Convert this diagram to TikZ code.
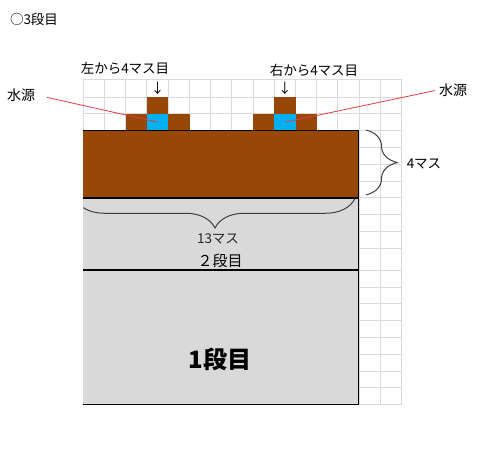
\documentclass[tikz,border=0pt]{standalone}
\usepackage{fontspec}
\setmainfont{Noto Sans CJK JP}
\usepackage{xcolor}
\usetikzlibrary{decorations.pathreplacing, positioning}

\definecolor{soil}{HTML}{974706}
\definecolor{water}{HTML}{00B0F0}
\definecolor{tier}{HTML}{D9D9D9}
\definecolor{gridline}{HTML}{DADADA}
\definecolor{redline}{HTML}{E23A46}
\definecolor{bracecol}{HTML}{404040}

\tikzset{
	lbl/.style={inner sep=1pt, font=\fontsize{13.5}{15}\selectfont},
	cell/.style={fill=soil, inner sep=0pt, minimum width=21.22pt, anchor=north west},
	well/.style={cell, fill=water},
	edge/.style={black, line width=1.6pt},
	pointer/.style={redline, line width=0.8pt},
	curly/.style={bracecol, line width=1pt, decorate}
}

\begin{document}
\begin{tikzpicture}[x=1pt, y=-1pt]
		\useasboundingbox (0,0) rectangle (480,471);

		% Grid
		\foreach \i in {0,...,15}
			\draw[gridline, line width=1pt] ({83.3+21.22*\i},79.3) -- ({83.3+21.22*\i},404.5);
		\foreach \y in {79.3,97,113.3,130.3,147.3,164.3,181,197.7,214.7,231.5,248.3,270,287,303.8,320.6,337.4,354.2,371,387.7,404.5}
			\draw[gridline, line width=1pt] (83.3,\y) -- (401.6,\y);

		% Blocks on top
		\node[cell, minimum height=17.2pt] (bL-1) at (125.74,113.3) {};
		\node[well, minimum height=17.2pt] (wellL) at (146.96,113.3) {};
		\node[cell, minimum height=17.2pt] (bL-2) at (168.18,113.3) {};
		\node[cell, minimum height=16.3pt] (bL-3) at (146.96,97) {};
		\node[cell, minimum height=17.2pt] (bR-1) at (253.06,113.3) {};
		\node[well, minimum height=17.2pt] (wellR) at (274.28,113.3) {};
		\node[cell, minimum height=17.2pt] (bR-2) at (295.5,113.3) {};
		\node[cell, minimum height=16.3pt] (bR-3) at (274.28,97) {};

		% Tiers
		\fill[tier] (83.3,197.7) rectangle (358.3,404.5);
		\fill[soil] (83.3,130.5) rectangle (358.3,197.7);
		\draw[edge] (83.3,130.5) -- (358.3,130.5) -- (358.3,404.5) -- (83.3,404.5);
		\draw[edge] (83.3,197.7) -- (358.3,197.7);
		\draw[edge] (83.3,270) -- (358.3,270);

		% Labels
		\node[lbl] (title) at (34,19) {○3段目};
		\node[lbl] (posL) at (125,68) {左から4マス目};
		\node[lbl] (posR) at (314,70) {右から4マス目};
		\node[lbl] (downL) at (157.6,88) {↓};
		\node[lbl] (downR) at (284.9,88) {↓};
		\node[lbl, font=\fontsize{14}{16}\selectfont] (srcL) at (21,95) {水源};
		\node[lbl, font=\fontsize{14}{16}\selectfont] (srcR) at (453,90) {水源};
		\node[lbl] (height) at (424,164) {4マス};
		\node[lbl, text=black!85] (width) at (218,239) {13マス};
		\node[lbl, font=\fontsize{15}{17}\selectfont] (tier2) at (220,261) {２段目};
		\node[lbl, font=\fontsize{24}{28}\selectfont\bfseries] (tier1) at (220,359) {1段目};

		% Pointers
		\draw[pointer, shorten <=11pt] (srcL.east) -- (wellL.center);
		\draw[pointer, shorten <=3pt] (srcR.west) -- (wellR.center);

		% Braces
		\draw[curly, decoration={brace, amplitude=31pt}] (366,130) -- (366,195);
		\begin{scope}
			\clip (83.3,190) rectangle (358.3,240);
			\draw[curly, decoration={brace, amplitude=29.5pt}] (355,198.5) -- (75,198.5);
		\end{scope}
	\end{tikzpicture}
\end{document}
